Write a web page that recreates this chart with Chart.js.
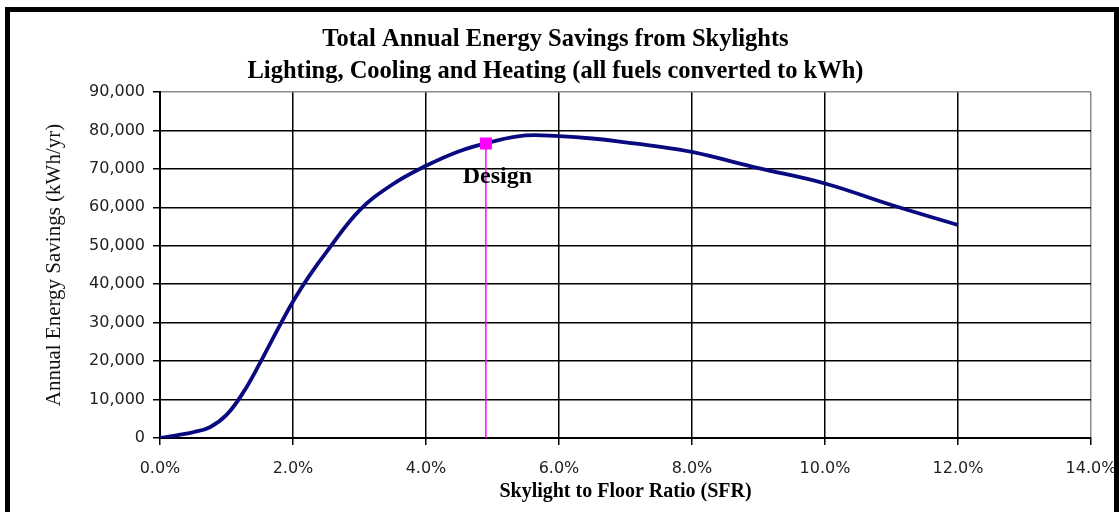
<!DOCTYPE html>
<html>
<head>
<meta charset="utf-8">
<script src="https://cdn.jsdelivr.net/npm/chart.js@4.4.1/dist/chart.umd.min.js"></script>
<style>
  html, body { margin: 0; padding: 0; background: #fff; }
  #wrap { position: relative; width: 1119px; height: 512px; }
  canvas { display: block; }
</style>
</head>
<body>
<div id="wrap"><canvas id="c" width="1119" height="512"></canvas></div>
<script>
// ---- data ----
const titleLines = ['Total Annual Energy Savings from Skylights', 'Lighting, Cooling and Heating (all fuels converted to kWh)'];
const xAxisTitle = 'Skylight to Floor Ratio (SFR)';
const yAxisTitle = 'Annual Energy Savings (kWh/yr)';
const sfrPercent = [0, 0.25, 0.5, 0.75, 1.0, 1.25, 1.5, 1.75, 2.0, 2.25, 2.5, 3.0, 3.5, 4.0, 4.5, 5.0, 5.5, 6.0, 6.5, 7.0, 7.5, 8.0, 9.0, 10.0, 11.0, 12.0];
const savingsKWh = [0, 700, 1500, 2800, 6000, 11800, 19400, 27600, 35500, 42300, 48300, 59200, 66000, 70800, 74600, 77100, 78700, 78500, 77900, 76900, 75800, 74400, 70200, 66200, 60600, 55400];
const designLabel = 'Design';
const designSFR = [4.9, 4.9];
const designSavings = [0, 76600];
const xTickValues = [0, 2, 4, 6, 8, 10, 12, 14];
const yTickValues = [0, 10000, 20000, 30000, 40000, 50000, 60000, 70000, 80000, 90000];

const curvePts = sfrPercent.map((x, i) => ({ x: x, y: savingsKWh[i] }));
const designPts = designSFR.map((x, i) => ({ x: x, y: designSavings[i] }));

const frameAndLabel = {
  id: 'frameAndLabel',
  afterDatasetsDraw(chart) {
    const ctx = chart.ctx;
    const xs = chart.scales.x, ys = chart.scales.y;
    ctx.save();
    ctx.fillStyle = '#000';
    ctx.font = 'bold 24px "Liberation Serif", "Times New Roman", serif';
    ctx.textAlign = 'center';
    ctx.textBaseline = 'alphabetic';
    ctx.fillText(designLabel, xs.getPixelForValue(designSFR[0]) + 11.5, ys.getPixelForValue(designSavings[1]) + 39);
    ctx.restore();
  },
  afterDraw(chart) {
    const ctx = chart.ctx;
    ctx.save();
    ctx.fillStyle = '#000';
    ctx.fillRect(5, 7, 1114, 5);
    ctx.fillRect(5, 7, 5, 505);
    ctx.fillRect(1114, 7, 5, 505);
    ctx.restore();
  }
};

new Chart(document.getElementById('c'), {
  type: 'scatter',
  data: {
    datasets: [
      {
        data: curvePts,
        showLine: true,
        borderColor: '#0a0a80',
        borderWidth: 3.8,
        pointRadius: 0,
        tension: 0.4,
        order: 2
      },
      {
        data: designPts,
        showLine: true,
        borderColor: '#ff00ff',
        borderWidth: 1.5,
        backgroundColor: '#ff00ff',
        pointStyle: 'rect',
        pointRadius: [0, 8.5],
        pointBorderWidth: 0,
        order: 1
      }
    ]
  },
  plugins: [frameAndLabel],
  options: {
    responsive: false,
    animation: false,
    events: [],
    layout: { padding: { left: 20, right: 28, top: 22, bottom: 4 } },
    plugins: {
      legend: { display: false },
      tooltip: { enabled: false },
      title: {
        display: true,
        text: titleLines,
        color: '#000',
        font: { family: '"Liberation Serif", "Times New Roman", serif', size: 24.5, weight: 'bold', lineHeight: 1.306 },
        padding: { top: 2, bottom: 4 }
      }
    },
    scales: {
      x: {
        type: 'linear',
        min: 0, max: 14,
        afterBuildTicks(scale) { scale.ticks = xTickValues.map(v => ({ value: v })); },
        afterFit(scale) { scale.height = 70; scale.paddingLeft = 0; scale.paddingRight = 0; },
        ticks: {
          color: '#222',
          font: { family: '"DejaVu Sans", sans-serif', size: 16 },
          padding: 14,
          maxRotation: 0,
          callback: v => Number(v).toFixed(1) + '%'
        },
        grid: {
          color: ctx => (ctx.tick && ctx.tick.value === 14) ? '#8a8a8a' : '#000',
          lineWidth: 1.5,
          tickLength: 7,
          tickColor: '#000'
        },
        border: { color: '#000', width: 2 },
        title: {
          display: true,
          text: xAxisTitle,
          color: '#000',
          font: { family: '"Liberation Serif", "Times New Roman", serif', size: 20, weight: 'bold', lineHeight: 1.2 },
          padding: { top: 0, bottom: 4.5 }
        }
      },
      y: {
        type: 'linear',
        min: 0, max: 90000,
        afterBuildTicks(scale) { scale.ticks = yTickValues.map(v => ({ value: v })); },
        afterFit(scale) { scale.width = 140; },
        ticks: {
          color: '#222',
          font: { family: '"DejaVu Sans", sans-serif', size: 16 },
          padding: 8,
          callback: v => Number(v).toLocaleString('en-US')
        },
        grid: {
          color: ctx => (ctx.tick && ctx.tick.value === 90000) ? '#8a8a8a' : '#000',
          lineWidth: 1.5,
          tickLength: 7,
          tickColor: '#000'
        },
        border: { color: '#000', width: 2 },
        title: {
          display: true,
          text: yAxisTitle,
          color: '#111',
          font: { family: '"Liberation Serif", "Times New Roman", serif', size: 21, weight: 'normal', lineHeight: 1.2 },
          padding: { top: 22, bottom: 0 }
        }
      }
    }
  }
});
</script>
</body>
</html>
